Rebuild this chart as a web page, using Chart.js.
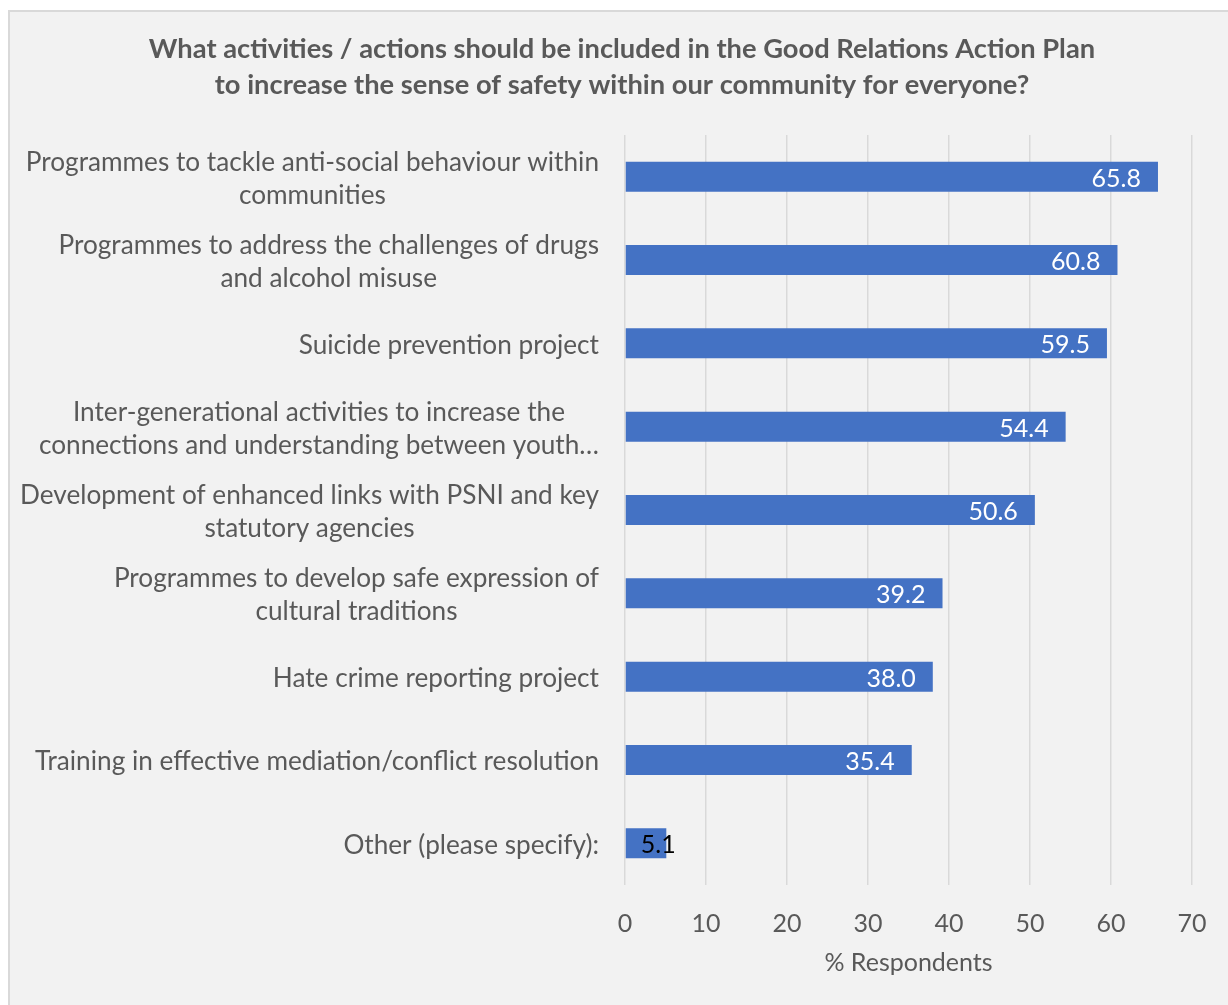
<!DOCTYPE html>
<html>
<head>
<meta charset="utf-8">
<script src="https://cdn.jsdelivr.net/npm/chart.js@4.4.1/dist/chart.umd.min.js"></script>
<style>
  html, body { margin: 0; padding: 0; background: #ffffff; }
  .frame {
    position: absolute; left: 8px; top: 10px; width: 1240px; height: 1010px;
    background: #f2f2f2; border-left: 2px solid #d9d9d9; border-top: 2px solid #d9d9d9;
  }
  canvas { position: absolute; left: 0; top: 0; }
</style>
</head>
<body>
<div class="frame"></div>
<canvas id="chart" width="1228" height="1005"></canvas>
<script>
// data
const titleLines = [
   "What activities / actions should be included in the Good Relations Action Plan",
   "to increase the sense of safety within our community for everyone?"
];

const categories = [
   ["Programmes to tackle anti-social behaviour within", "communities"],
   ["Programmes to address the challenges of drugs", "and alcohol misuse"],
   "Suicide prevention project",
   ["Inter-generational activities to increase the", "connections and understanding between youth…"],
   ["Development of enhanced links with PSNI and key", "statutory agencies"],
   ["Programmes to develop safe expression of", "cultural traditions"],
   "Hate crime reporting project",
   "Training in effective mediation/conflict resolution",
   "Other (please specify):"
];

const respondents = [65.8, 60.8, 59.5, 54.4, 50.6, 39.2, 38.0, 35.4, 5.1];

const xTicks = [0, 10, 20, 30, 40, 50, 60, 70];
const xTitle = "% Respondents";

const FONT = "Lato, 'Open Sans', sans-serif";
const GREY = "#595959";

// title on top of the whole chart
const titlePlugin = {
   id: "bigTitle",
   afterDraw(chart) {
      const ctx = chart.ctx;
      ctx.save();
      ctx.font = `bold 27.3px ${FONT}`;
      ctx.fillStyle = GREY;
      ctx.textAlign = "center";
      ctx.textBaseline = "middle";
      titleLines.forEach((line, i) => ctx.fillText(line, 622, 49 + i * 36));
      ctx.restore();
   }
};

// category labels: block right aligned to axis, lines centred in the block
const categoryLabels = {
   id: "categoryLabels",
   afterDraw(chart) {
      const ctx = chart.ctx;
      const yScale = chart.scales.y;
      const right = chart.chartArea.left - 26;
      ctx.save();
      ctx.font = `26.2px ${FONT}`;
      ctx.fillStyle = GREY;
      ctx.textAlign = "center";
      ctx.textBaseline = "middle";
      categories.forEach((label, i) => {
         const lines = Array.isArray(label) ? label : [label];
         const maxW = Math.max(...lines.map((l) => ctx.measureText(l).width));
         const cx = right - maxW / 2;
         const yc = yScale.getPixelForValue(i) + 2;
         const lh = 33;
         lines.forEach((l, j) => {
            ctx.fillText(l, cx, yc + (j - (lines.length - 1) / 2) * lh);
         });
      });
      ctx.restore();
   }
};

// value labels at the inside end of each bar
const valueLabels = {
   id: "valueLabels",
   afterDatasetsDraw(chart) {
      const ctx = chart.ctx;
      const meta = chart.getDatasetMeta(0);
      ctx.save();
      ctx.font = `25px ${FONT}`;
      ctx.textAlign = "left";
      ctx.textBaseline = "middle";
      meta.data.forEach((bar, i) => {
         const text = respondents[i].toFixed(1);
         const w = ctx.measureText(text).width;
         let left = bar.x - 17 - w;
         let color = "#ffffff";
         if (left < bar.base + 15) {
            left = bar.base + 15;
            color = "#000000";
         }
         ctx.fillStyle = color;
         ctx.fillText(text, left, bar.y + 2);
      });
      ctx.restore();
   }
};

const data = {
   labels: categories,
   datasets: [
      {
         data: respondents,
         backgroundColor: "#4472c4",
         borderWidth: 0,
         barPercentage: 0.9,
         categoryPercentage: 0.4
      }
   ]
};

const config = {
   type: "bar",
   data: data,
   options: {
      indexAxis: "y",
      responsive: false,
      animation: false,
      events: [],
      layout: {
         padding: { left: 625, right: 36, top: 135, bottom: 0 }
      },
      plugins: {
         legend: { display: false },
         tooltip: { enabled: false },
         title: { display: false }
      },
      scales: {
         x: {
            min: 0,
            max: 70,
            afterBuildTicks: (axis) => {
               axis.ticks = xTicks.map((v) => ({ value: v }));
            },
            afterFit: (axis) => {
               // fixed axis band below the plot, no extra side padding
               axis.height = 120;
               axis.paddingLeft = 0;
               axis.paddingRight = 0;
            },
            grid: { color: "#d9d9d9", lineWidth: 1.5, drawTicks: false },
            border: { display: false },
            ticks: {
               padding: 24,
               color: GREY,
               font: { family: FONT, size: 25 }
            },
            title: {
               display: true,
               text: xTitle,
               color: GREY,
               font: { family: FONT, size: 25 },
               padding: { top: 4, bottom: 27 }
            }
         },
         y: {
            display: false
         }
      }
   },
   plugins: [titlePlugin, categoryLabels, valueLabels]
};

new Chart(document.getElementById("chart"), config);
</script>
</body>
</html>
